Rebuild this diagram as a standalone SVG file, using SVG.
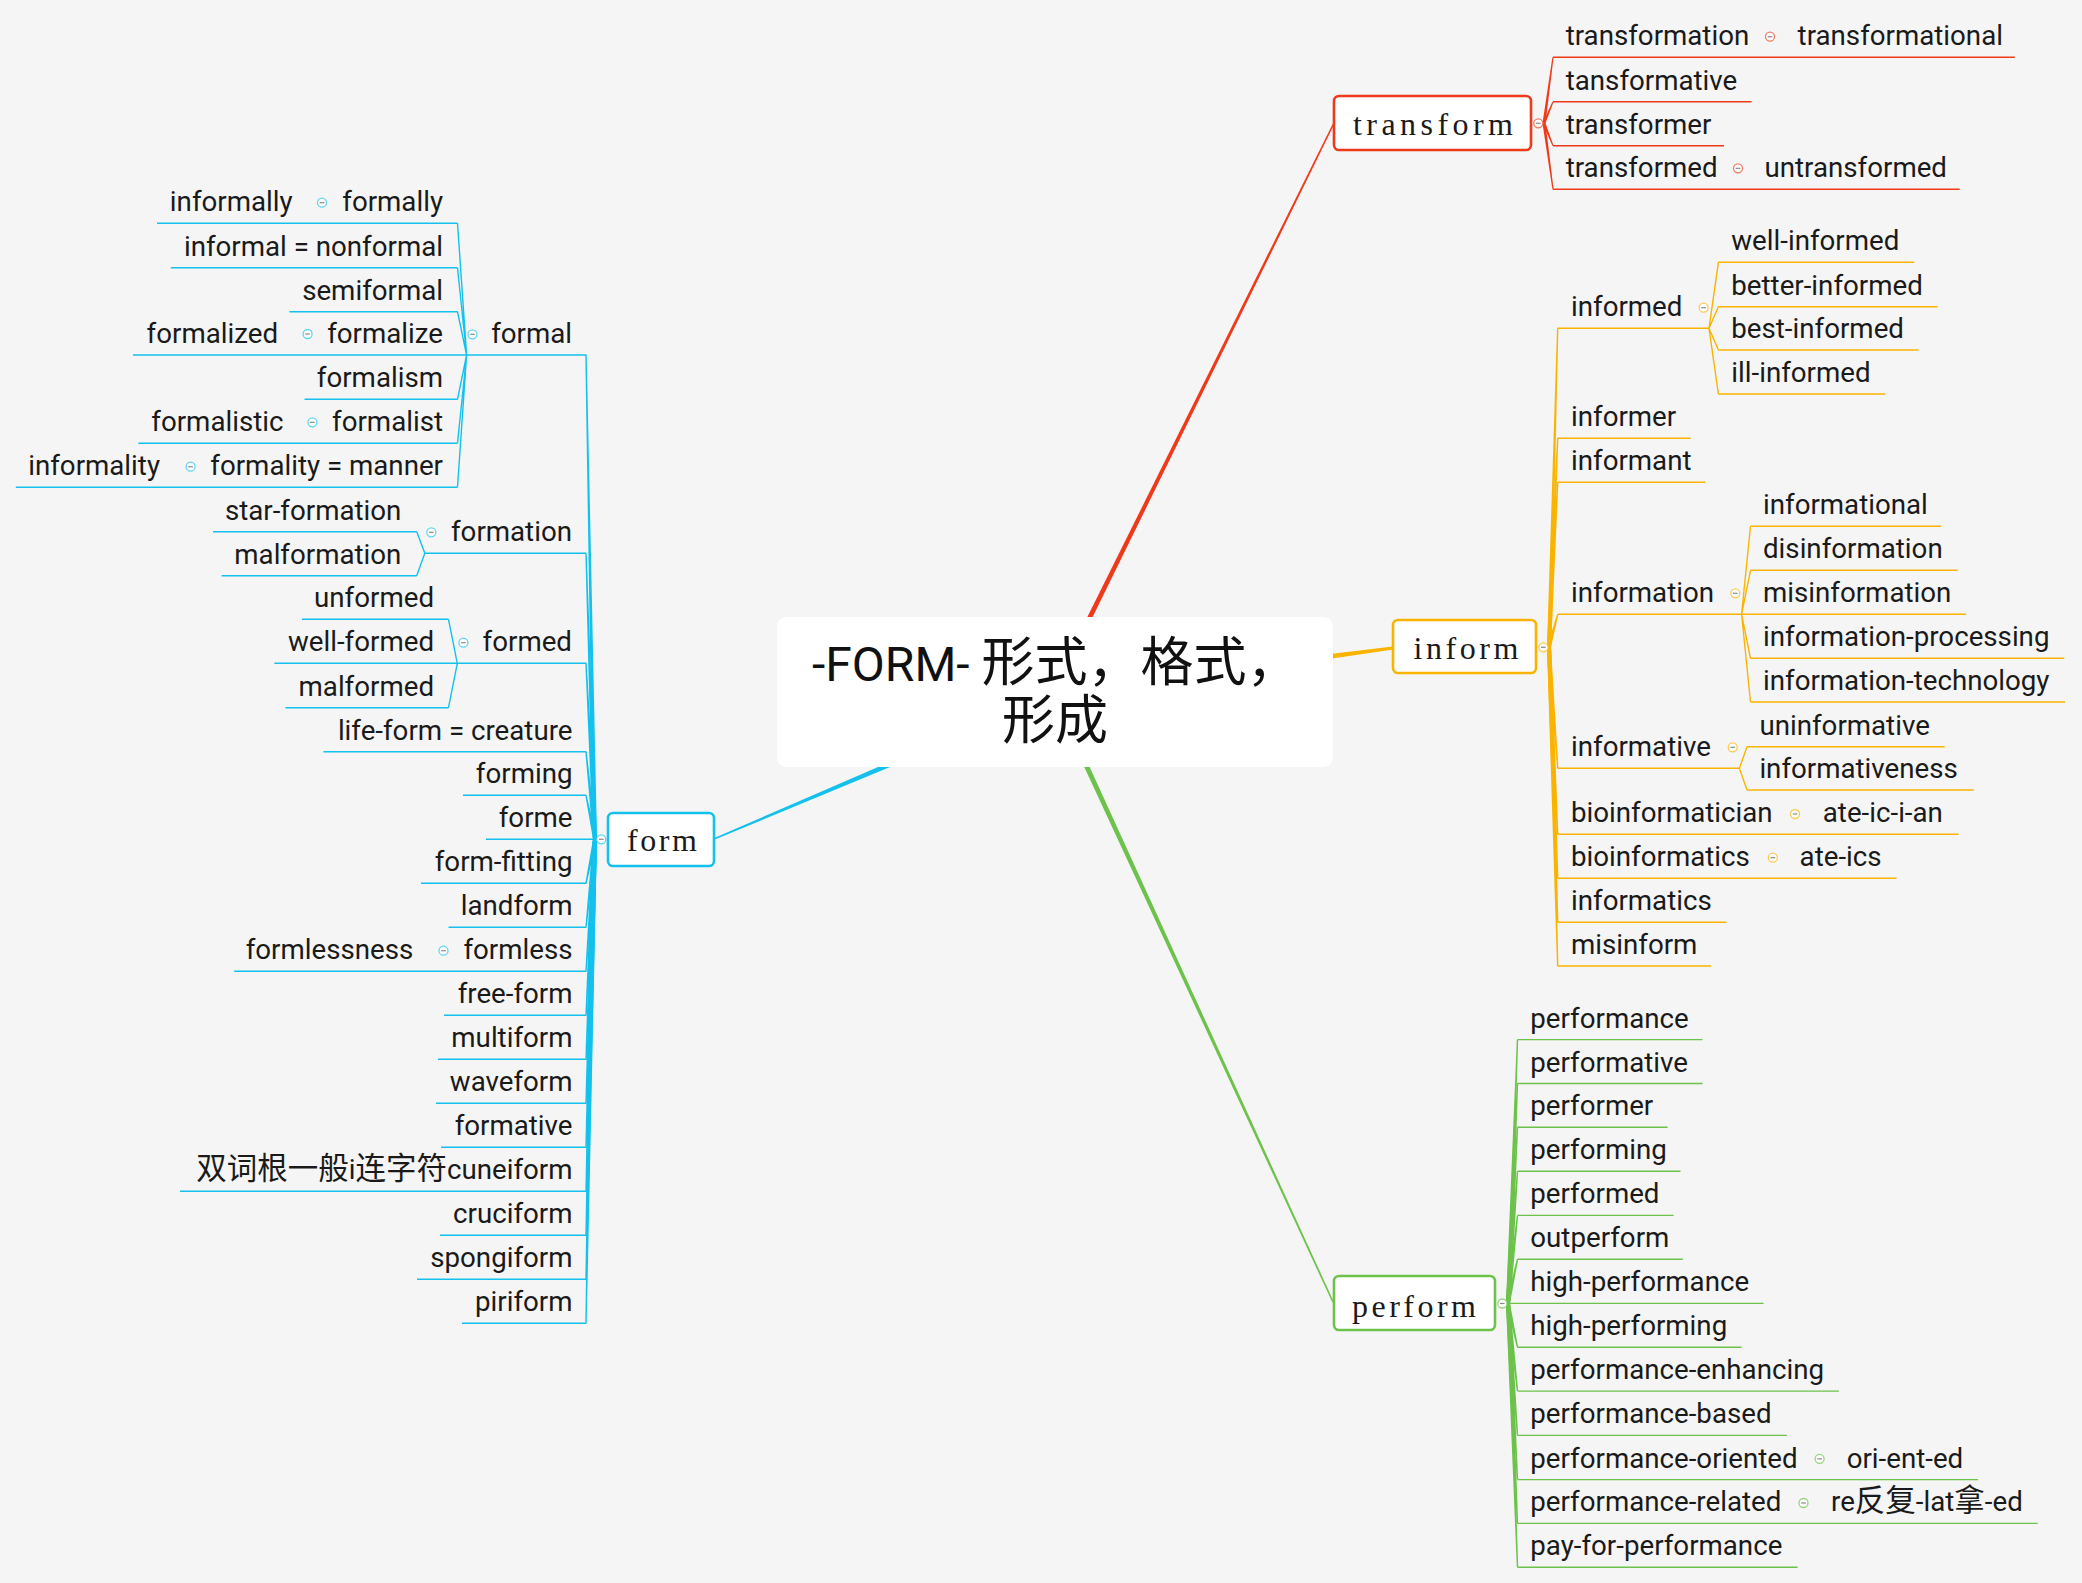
<svg xmlns="http://www.w3.org/2000/svg" width="2082" height="1583" viewBox="0 0 2082 1583">
<style>
.t{font-family:Roboto,"Noto Sans CJK SC",sans-serif;font-size:27.7px;fill:#1a1a1a}
.e{text-anchor:end}
.cj{font-family:"Noto Sans CJK SC",sans-serif;font-size:30.5px}
.h{font-family:"Liberation Serif",serif;font-size:32px;fill:#1a1a1a}
.lb{fill:none;stroke:#14c1ec;stroke-width:1.4}
.ly{fill:none;stroke:#fab400;stroke-width:1.4}
.lr{fill:none;stroke:#ee3a1b;stroke-width:1.4}
.lg{fill:none;stroke:#6cc24a;stroke-width:1.4}
.fb{fill:#14c1ec}.fy{fill:#fab400}.fr{fill:#ee3a1b}.fg{fill:#6cc24a}
.box{fill:#fff;stroke-width:2.6}
.ck{fill:#fff;stroke-width:1.3}
.mn{stroke:#888;stroke-width:1.2}
</style>
<defs>
<g id="cB"><circle r="4.5" class="ck" stroke="#5fd6f2"/><path class="mn" d="M-2.3,0H2.3"/></g>
<g id="cY"><circle r="4.5" class="ck" stroke="#fbcb55"/><path class="mn" d="M-2.3,0H2.3"/></g>
<g id="cR"><circle r="4.5" class="ck" stroke="#f27a62"/><path class="mn" d="M-2.3,0H2.3"/></g>
<g id="cG"><circle r="4.5" class="ck" stroke="#98d47f"/><path class="mn" d="M-2.3,0H2.3"/></g>
</defs>
<rect width="2082" height="1583" fill="#f5f5f5"/>

<g id="connectors">
<polygon class="fr" points="1083.3,636.1 1334.7,123.3 1333.3,122.7 1078.9,633.9"/>
<polygon class="fy" points="1320.3,660.2 1393.2,649.5 1392.8,646.5 1319.7,655.2"/>
<polygon class="fb" points="903.4,761.5 714.3,839.7 713.7,838.3 901.4,756.9"/>
<polygon class="fg" points="1080.9,747.8 1333.7,1301.7 1332.3,1302.3 1076.3,749.8"/>

<g class="fb">
<polygon points="593,839.3 597,839.3 586.7,355 585.3,355"/>
<polygon points="593,839.3 597,839.3 586.7,553.3 585.3,553.3"/>
<polygon points="593,839.3 597,839.3 586.7,663.3 585.3,663.3"/>
<polygon points="593,839.3 597,839.3 586.7,751.7 585.3,751.7"/>
<polygon points="593,839.3 597,839.3 586.7,795.3 585.3,795.3"/>
<polygon points="593,839.3 597,839.3 586.7,883.3 585.3,883.3"/>
<polygon points="593,839.3 597,839.3 586.7,927.3 585.3,927.3"/>
<polygon points="593,839.3 597,839.3 586.7,971.3 585.3,971.3"/>
<polygon points="593,839.3 597,839.3 586.7,1015.3 585.3,1015.3"/>
<polygon points="593,839.3 597,839.3 586.7,1059.3 585.3,1059.3"/>
<polygon points="593,839.3 597,839.3 586.7,1103.3 585.3,1103.3"/>
<polygon points="593,839.3 597,839.3 586.7,1147.3 585.3,1147.3"/>
<polygon points="593,839.3 597,839.3 586.7,1191.3 585.3,1191.3"/>
<polygon points="593,839.3 597,839.3 586.7,1235.3 585.3,1235.3"/>
<polygon points="593,839.3 597,839.3 586.7,1279.3 585.3,1279.3"/>
<polygon points="593,839.3 597,839.3 586.7,1323.3 585.3,1323.3"/>
</g>
<path class="lb" d="M466.6,355L457.5,223.3M466.6,355L457.5,267.7M466.6,355L457.5,311.7M466.6,355L457.5,399.3M466.6,355L457.5,443.3M466.6,355L457.5,487.3
M424.8,553.3L416.7,531.7M424.8,553.3L416.7,575.7
M457.3,663.3L448.5,619.3M457.3,663.3L448.5,707.7
M157,223.3H457.5M170.8,267.7H457.5M289.4,311.7H457.5M133,355H586.4M304.5,399.3H457.5M138.4,443.3H457.5M15.8,487.3H457.5
M213,531.7H416.7M221.6,575.7H416.7M424.8,553.3H586.3
M302,619.3H448.5M274.4,663.3H586.3M285.5,707.7H448.5
M323.4,751.7H586.3M463,795.3H586.3M486,839.3H597M421,883.3H586.3M448.5,927.3H586.3M234.2,971.3H586.3M444,1015.3H586.3M438,1059.3H586.3M436,1103.3H586.3M441,1147.3H586.3M180,1191.3H586.3M440,1235.3H586.3M417,1279.3H586.3M462,1323.3H586.3"/>

<g class="fr">
<polygon points="1542.5,123.3 1545.5,123.3 1553.6,57.3 1552.4,57.3"/>
<polygon points="1542.5,123.3 1545.5,123.3 1553.6,101.7 1552.4,101.7"/>
<polygon points="1542.5,123.3 1545.5,123.3 1553.6,145.7 1552.4,145.7"/>
<polygon points="1542.5,123.3 1545.5,123.3 1553.6,189.3 1552.4,189.3"/>
</g>
<path class="lr" d="M1553,57.3H2014.8M1553,101.7H1751.6M1553,145.7H1724M1553,189.3H1959.7"/>

<g class="fy">
<polygon points="1547,647.3 1551,647.3 1558.4,328.3 1557,328.3"/>
<polygon points="1547,647.3 1551,647.3 1558.4,438.3 1557,438.3"/>
<polygon points="1547,647.3 1551,647.3 1558.4,482.3 1557,482.3"/>
<polygon points="1547,647.3 1551,647.3 1558.4,614.3 1557,614.3"/>
<polygon points="1547,647.3 1551,647.3 1558.4,768.3 1557,768.3"/>
<polygon points="1547,647.3 1551,647.3 1558.4,834.3 1557,834.3"/>
<polygon points="1547,647.3 1551,647.3 1558.4,878.3 1557,878.3"/>
<polygon points="1547,647.3 1551,647.3 1558.4,922.3 1557,922.3"/>
<polygon points="1547,647.3 1551,647.3 1558.4,966 1557,966"/>
</g>
<path class="ly" d="M1557.7,328.3H1709M1557.7,438.3H1690.7M1557.7,482.3H1705.4M1557.7,614.3H1966M1557.7,768.3H1739.4M1557.7,834.3H1958.5M1557.7,878.3H1896.5M1557.7,922.3H1726.4M1557.7,966H1711.2
M1709,328.3L1718.4,262.3M1709,328.3L1718.4,306.7M1709,328.3L1718.4,350M1709,328.3L1718.4,394
M1718.4,262.3H1914.3M1718.4,306.7H1937.6M1718.4,350H1918.4M1718.4,394H1885.3
M1741.6,614.3L1750.5,526.3M1741.6,614.3L1750.5,570.3M1741.6,614.3L1750.5,658.3M1741.6,614.3L1750.5,702
M1750.5,526.3H1941M1750.5,570.3H1957.6M1750.5,658.3H2064.3M1750.5,702H2065
M1739.4,768.3L1747,746.7M1739.4,768.3L1747,790
M1747,746.7H1944.7M1747,790H1973.7"/>

<g class="fg">
<polygon points="1506,1303.5 1510,1303.5 1518.2,1039.6 1516.8,1039.6"/>
<polygon points="1506,1303.5 1510,1303.5 1518.2,1083.5 1516.8,1083.5"/>
<polygon points="1506,1303.5 1510,1303.5 1518.2,1127.3 1516.8,1127.3"/>
<polygon points="1506,1303.5 1510,1303.5 1518.2,1171.2 1516.8,1171.2"/>
<polygon points="1506,1303.5 1510,1303.5 1518.2,1215.4 1516.8,1215.4"/>
<polygon points="1506,1303.5 1510,1303.5 1518.2,1259.2 1516.8,1259.2"/>
<polygon points="1506,1303.5 1510,1303.5 1518.2,1347.3 1516.8,1347.3"/>
<polygon points="1506,1303.5 1510,1303.5 1518.2,1391.1 1516.8,1391.1"/>
<polygon points="1506,1303.5 1510,1303.5 1518.2,1435.4 1516.8,1435.4"/>
<polygon points="1506,1303.5 1510,1303.5 1518.2,1479.6 1516.8,1479.6"/>
<polygon points="1506,1303.5 1510,1303.5 1518.2,1523.4 1516.8,1523.4"/>
<polygon points="1506,1303.5 1510,1303.5 1518.2,1567.3 1516.8,1567.3"/>
</g>
<path class="lg" d="M1517.5,1039.6H1702.5M1517.5,1083.5H1702.5M1517.5,1127.3H1667.6M1517.5,1171.2H1680.5M1517.5,1215.4H1673.6M1517.5,1259.2H1682.8M1506,1303.4H1763.6M1517.5,1347.3H1741.5M1517.5,1391.1H1838.9M1517.5,1435.4H1787M1517.5,1479.6H1978M1517.5,1523.4H2037.7M1517.5,1567.3H1797.6"/>
</g>

<g id="central">
<rect x="777" y="617" width="556" height="150" rx="9" fill="#fff"/>
<text style="font-family:Roboto,'Noto Sans CJK SC',sans-serif;font-size:48px;fill:#111"><tspan x="812" y="681">-FORM- <tspan style="font-family:'Noto Sans CJK SC',sans-serif;font-size:53px">形式，格式，</tspan></tspan><tspan x="1055" y="739" text-anchor="middle" style="font-family:'Noto Sans CJK SC',sans-serif;font-size:53px">形成</tspan></text>
</g>

<g id="transform">
<rect class="box" x="1334" y="96" width="197" height="54" rx="5" stroke="#ee3a1b"/>
<text class="h" x="1353" y="135" textLength="160" lengthAdjust="spacing">transform</text>
<use href="#cR" x="1538.3" y="123.3"/>
</g>
<g id="transform-children">
<text class="t" x="1565.7" y="45.3">transformation</text>
<use href="#cR" x="1770" y="36.7"/>
<text class="t" x="1797.6" y="45.3">transformational</text>
<text class="t" x="1565.7" y="89.7">tansformative</text>
<text class="t" x="1565.7" y="133.7">transformer</text>
<text class="t" x="1565.7" y="177.3">transformed</text>
<use href="#cR" x="1738" y="168.3"/>
<text class="t" x="1764.5" y="177.3">untransformed</text>
</g>

<g id="inform">
<rect class="box" x="1393" y="620" width="143" height="53" rx="5" stroke="#fab400"/>
<text class="h" x="1413.5" y="659.3" textLength="105" lengthAdjust="spacing">inform</text>
<use href="#cY" x="1543.4" y="647.3"/>
</g>
<g id="inform-children">
<text class="t" x="1571" y="316.3">informed</text>
<use href="#cY" x="1703.6" y="307.7"/>
<text class="t" x="1731.3" y="250.3">well-informed</text>
<text class="t" x="1731.3" y="294.7">better-informed</text>
<text class="t" x="1731.3" y="338">best-informed</text>
<text class="t" x="1731.3" y="382">ill-informed</text>
<text class="t" x="1571" y="426.3">informer</text>
<text class="t" x="1571" y="470.3">informant</text>
<text class="t" x="1571" y="602.3">information</text>
<use href="#cY" x="1735.3" y="593.3"/>
<text class="t" x="1763" y="514.3">informational</text>
<text class="t" x="1763" y="558.3">disinformation</text>
<text class="t" x="1763" y="602.3">misinformation</text>
<text class="t" x="1763" y="646.3">information-processing</text>
<text class="t" x="1763" y="690">information-technology</text>
<text class="t" x="1571" y="756.3">informative</text>
<use href="#cY" x="1732.7" y="747.3"/>
<text class="t" x="1759.4" y="734.7">uninformative</text>
<text class="t" x="1759.4" y="778">informativeness</text>
<text class="t" x="1571" y="822.3">bioinformatician</text>
<use href="#cY" x="1795" y="814"/>
<text class="t" x="1822.8" y="822.3">ate-ic-i-an</text>
<text class="t" x="1571" y="866.3">bioinformatics</text>
<use href="#cY" x="1772.8" y="857.7"/>
<text class="t" x="1799.6" y="866.3">ate-ics</text>
<text class="t" x="1571" y="910.3">informatics</text>
<text class="t" x="1571" y="954">misinform</text>
</g>

<g id="perform">
<rect class="box" x="1334" y="1276" width="161" height="54" rx="5" stroke="#6cc24a"/>
<text class="h" x="1352" y="1316.5" textLength="124" lengthAdjust="spacing">perform</text>
<use href="#cG" x="1502.3" y="1303.5"/>
</g>
<g id="perform-children">
<text class="t" x="1530.3" y="1027.6">performance</text>
<text class="t" x="1530.3" y="1071.5">performative</text>
<text class="t" x="1530.3" y="1115.3">performer</text>
<text class="t" x="1530.3" y="1159.2">performing</text>
<text class="t" x="1530.3" y="1203.4">performed</text>
<text class="t" x="1530.3" y="1247.2">outperform</text>
<text class="t" x="1530.3" y="1291.4">high-performance</text>
<text class="t" x="1530.3" y="1335.3">high-performing</text>
<text class="t" x="1530.3" y="1379.1">performance-enhancing</text>
<text class="t" x="1530.3" y="1423.4">performance-based</text>
<text class="t" x="1530.3" y="1467.6">performance-oriented</text>
<use href="#cG" x="1819.6" y="1458.8"/>
<text class="t" x="1846.7" y="1467.6">ori-ent-ed</text>
<text class="t" x="1530.3" y="1511.4">performance-related</text>
<use href="#cG" x="1803.5" y="1503"/>
<text class="t" x="1831" y="1511.4">re<tspan class="cj">反复</tspan>-lat<tspan class="cj">拿</tspan>-ed</text>
<text class="t" x="1530.3" y="1555.3">pay-for-performance</text>
</g>

<g id="form">
<rect class="box" x="608" y="813" width="106" height="53" rx="5" stroke="#14c1ec"/>
<text class="h" x="627" y="850.7" textLength="70" lengthAdjust="spacing">form</text>
<use href="#cB" x="601.3" y="839.3"/>
</g>
<g id="form-children">
<text class="t e" x="572" y="343">formal</text>
<use href="#cB" x="472.5" y="334.3"/>
<text class="t e" x="443" y="211.3">formally</text>
<use href="#cB" x="322" y="202.7"/>
<text class="t e" x="292.6" y="211.3">informally</text>
<text class="t e" x="443" y="255.7">informal = nonformal</text>
<text class="t e" x="443" y="299.7">semiformal</text>
<text class="t e" x="443" y="343">formalize</text>
<use href="#cB" x="307.6" y="334"/>
<text class="t e" x="278" y="343">formalized</text>
<text class="t e" x="443" y="387.3">formalism</text>
<text class="t e" x="443" y="431.3">formalist</text>
<use href="#cB" x="312.4" y="422.3"/>
<text class="t e" x="283.5" y="431.3">formalistic</text>
<text class="t e" x="443" y="475.3">formality = manner</text>
<use href="#cB" x="190.6" y="466.7"/>
<text class="t e" x="160" y="475.3">informality</text>
<text class="t e" x="572" y="541.3">formation</text>
<use href="#cB" x="431.3" y="532.3"/>
<text class="t e" x="401.4" y="519.7">star-formation</text>
<text class="t e" x="401.4" y="563.7">malformation</text>
<text class="t e" x="572" y="651.3">formed</text>
<use href="#cB" x="463.4" y="642.7"/>
<text class="t e" x="434" y="607.3">unformed</text>
<text class="t e" x="434" y="651.3">well-formed</text>
<text class="t e" x="434" y="695.7">malformed</text>
<text class="t e" x="572.5" y="739.7">life-form = creature</text>
<text class="t e" x="572.5" y="783.3">forming</text>
<text class="t e" x="572.5" y="827.3">forme</text>
<text class="t e" x="572.5" y="871.3">form-fitting</text>
<text class="t e" x="572.5" y="915.3">landform</text>
<text class="t e" x="572.5" y="959.3">formless</text>
<use href="#cB" x="443.5" y="950.7"/>
<text class="t e" x="413.3" y="959.3">formlessness</text>
<text class="t e" x="572.5" y="1003.3">free-form</text>
<text class="t e" x="572.5" y="1047.3">multiform</text>
<text class="t e" x="572.5" y="1091.3">waveform</text>
<text class="t e" x="572.5" y="1135.3">formative</text>
<text class="t e" x="572.5" y="1179.3"><tspan class="cj">双词根一般</tspan>i<tspan class="cj">连字符</tspan>cuneiform</text>
<text class="t e" x="572.5" y="1223.3">cruciform</text>
<text class="t e" x="572.5" y="1267.3">spongiform</text>
<text class="t e" x="572.5" y="1311.3">piriform</text>
</g>
</svg>
